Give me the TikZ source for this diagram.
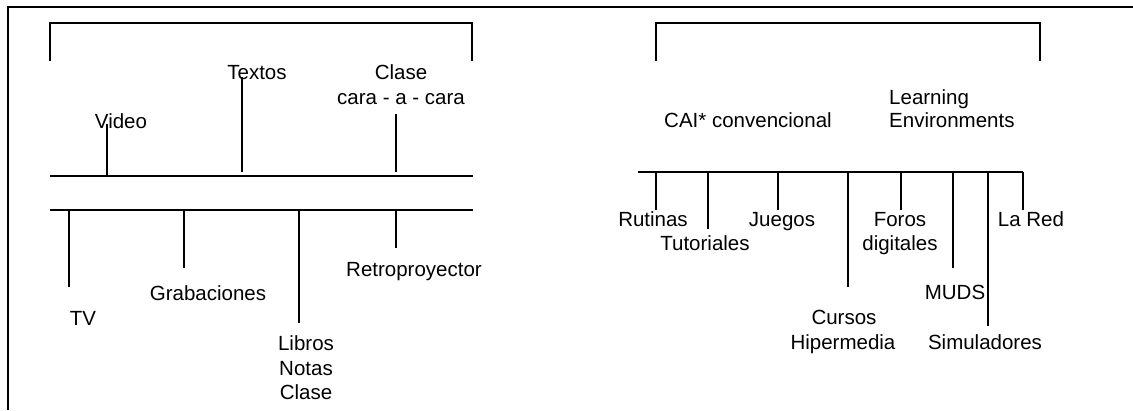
\documentclass[tikz,border=0pt]{standalone}
\usepackage{fontspec}
\setmainfont{Liberation Sans}
\begin{document}
\begin{tikzpicture}[x=1pt,y=-1pt,
  ln/.style={line width=1.5pt},
  frm/.style={line width=2.5pt},
  lbl/.style={anchor=base,inner sep=0pt,font=\fontsize{20.5}{24.5}\selectfont}]
\useasboundingbox (0,0) rectangle (1133,410);
% frame
\coordinate (fbl) at (8,410); \coordinate (ftl) at (8,7); \coordinate (ftr) at (1133,7);
\draw[frm] (fbl) -- (ftl) -- (ftr);
% brackets
\coordinate (lb1) at (50,61); \coordinate (lb2) at (50,23); \coordinate (lb3) at (472,23); \coordinate (lb4) at (472,61);
\draw[ln] (lb1) -- (lb2) -- (lb3) -- (lb4);
\coordinate (rb1) at (656,61); \coordinate (rb2) at (656,23); \coordinate (rb3) at (1040,23); \coordinate (rb4) at (1040,61);
\draw[ln] (rb1) -- (rb2) -- (rb3) -- (rb4);
% left bars
\coordinate (bar1l) at (50,176); \coordinate (bar1r) at (473,176);
\coordinate (bar2l) at (50,210); \coordinate (bar2r) at (473,210);
\draw[ln] (bar1l) -- (bar1r);
\draw[ln] (bar2l) -- (bar2r);
% left labels (upper)
\node[lbl] (video) at (121,128) {Video};
\node[lbl] (textos) at (257,79) {Textos};
\node[lbl] (clase1) at (401,79) {Clase};
\node[lbl] (clase2) at (401,104) {cara - a - cara};
% left labels (lower)
\node[lbl] (tv) at (83,325) {TV};
\node[lbl] (grab) at (208,300) {Grabaciones};
\node[lbl] (libros1) at (306,350) {Libros};
\node[lbl] (libros2) at (306,375) {Notas};
\node[lbl] (libros3) at (306,399) {Clase};
\node[lbl] (retro) at (414,276) {Retroproyector};
% left connectors
\coordinate (vA) at (107,176); \coordinate (vB) at (107,124);
\coordinate (tA) at (242,172); \coordinate (tB) at (242,77);
\coordinate (cA) at (396,172); \coordinate (cB) at (396,114);
\draw[ln] (vA) -- (vB);
\draw[ln] (tA) -- (tB);
\draw[ln] (cA) -- (cB);
\coordinate (tvA) at (69,210); \coordinate (tvB) at (69,287);
\coordinate (gA) at (184,210); \coordinate (gB) at (184,268);
\coordinate (lA) at (299,210); \coordinate (lB) at (299,323);
\coordinate (reA) at (396,210); \coordinate (reB) at (396,248);
\draw[ln] (tvA) -- (tvB);
\draw[ln] (gA) -- (gB);
\draw[ln] (lA) -- (lB);
\draw[ln] (reA) -- (reB);
% right labels
\node[lbl] (cai) at (748,127) {CAI* convencional};
\node[lbl,anchor=base west] (learn1) at (889,104) {Learning};
\node[lbl,anchor=base west] (learn2) at (889,127) {Environments};
\node[lbl] (rut) at (653,226) {Rutinas};
\node[lbl] (tut) at (705,250) {Tutoriales};
\node[lbl] (jue) at (782,226) {Juegos};
\node[lbl] (for1) at (900,226) {Foros};
\node[lbl] (for2) at (900,250) {digitales};
\node[lbl] (muds) at (955,299) {MUDS};
\node[lbl] (cur1) at (844,324) {Cursos};
\node[lbl] (cur2) at (843,349) {Hipermedia};
\node[lbl] (sim) at (985,349) {Simuladores};
\node[lbl] (red) at (1031,226) {La Red};
% right bar
\coordinate (rbarl) at (638,172); \coordinate (rbarr) at (1023,172);
\draw[ln] (rbarl) -- (rbarr);
\foreach \x/\y/\n in {656/210/a,708/229/b,778/210/c,848/287/d,901/210/e,953/268/f,988/326/g,1023/210/h}{
  \coordinate (top\n) at (\x,172);
  \coordinate (end\n) at (\x,\y);
  \draw[ln] (top\n) -- (end\n);
}
\end{tikzpicture}
\end{document}
